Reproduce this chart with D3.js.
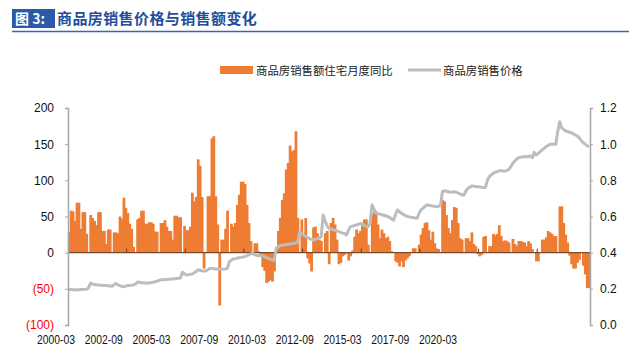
<!DOCTYPE html>
<html>
<head>
<meta charset="utf-8">
<script src="https://cdn.jsdelivr.net/npm/d3@7"></script>
<style>
  body { margin: 0; background: #fff; }
  svg { display: block; }
</style>
</head>
<body>
<div id="chart"></div>
<script>
const titleTag = '图 3:';
const titleText = '商品房销售价格与销售额变化';
const legendLabels = ['商品房销售额住宅月度同比', '商品房销售价格'];
const xLabels = ['2000-03', '2002-09', '2005-03', '2007-09', '2010-03', '2012-09', '2015-03', '2017-09', '2020-03'];
const leftTicks = [-100, -50, 0, 50, 100, 150, 200];
const rightTicks = [0, 0.2, 0.4, 0.6, 0.8, 1.0, 1.2];

// monthly, 2000-03 .. 2022-05 (January not reported)
const months = d3.timeMonth.range(new Date(2000, 2, 1), new Date(2022, 5, 1));

// residential sales amount, monthly YoY %
const salesYoY = [
  28, 58, 57, 44, 69, 69, 33, 56, 56, 26,                 // 2000 Mar-Dec
  null, 52, 48, 44, 38, 56, 56, 30, 30, 12, 32, 32,       // 2001
  null, 28, 28, 27, 50, 47, 76, 62, 55, 40, 33, 8,        // 2002
  null, 46, 48, 58, 58, 40, 40, 42, 42, 40, 29, 29,       // 2003
  null, 41, 41, 45, 36, 30, 30, 18, 51, 51, 49, 49,       // 2004
  null, 37, 31, 31, 36, 83, 71, 77, 129, 120, 77, -22,    // 2005
  null, 78, 78, 158, 161, 78, 39, -73, 18, 18, 33, 58,    // 2006
  null, 40, 36, 41, 66, 80, 98, 98, 95, 66, 41, 16,       // 2007
  null, 13, 13, 2, -3, -20, -25, -42, -40, -38, -40, -26, // 2008
  null, 30, 48, 73, 82, 115, 124, 148, 140, 142, 168, 48, // 2009
  null, 46, 27, 48, -8, -15, -26, 35, 36, 27, 18, 16,     // 2010
  null, 27, 30, -16, 41, 48, 39, 18, -16, -14, -5, -3,    // 2011
  null, -11, -5, 3, 22, 32, 27, 30, 39, 46, 46, 11,       // 2012
  null, 53, 56, 57, 39, 20, 32, 27, 20, 22, 16, 2,        // 2013
  null, -12, -14, -19, -12, -20, -11, -8, -5, 1, 6, 6,    // 2014
  null, 11, 25, 34, 41, 42, 31, 18, 29, 13, 6, 5,         // 2015
  null, 73, 71, 52, 34, 27, 45, 63, 62, 41, 20, 18,       // 2016
  null, 20, 20, 16, 28, 12, 9, -2, -5, -3, 22, 23,        // 2017
  null, 9, 9, 26, 24, 26, 38, 23, 16, 17, 16, 14,         // 2018
  null, 19, 12, 9, 16, 16, 15, 14, 9, 16, 13, 5,          // 2019
  null, -12, -12, 0, 18, 18, 21, 30, 28, 26, 23, 23,      // 2020
  null, 64, 64, 41, 25, 14, -4, -16, -22, -22, -14, -10,  // 2021
  null, -18, -30, -49, -49                                // 2022 Jan-May
];

// average sales price, 10k yuan / m2
const price = [
  0.197, 0.196, 0.195, 0.195, 0.194, 0.195, 0.196, 0.196, 0.197, 0.198,
  0.205, 0.232, 0.226, 0.224, 0.222, 0.221, 0.220, 0.220, 0.219, 0.218, 0.217, 0.216,
  0.214, 0.222, 0.229, 0.222, 0.218, 0.214, 0.212, 0.215, 0.218, 0.219, 0.220, 0.222,
  0.226, 0.238, 0.236, 0.234, 0.233, 0.232, 0.231, 0.233, 0.234, 0.236, 0.239, 0.242,
  0.246, 0.250, 0.250, 0.251, 0.252, 0.253, 0.254, 0.255, 0.256, 0.257, 0.258, 0.260,
  0.292, 0.283, 0.277, 0.278, 0.280, 0.282, 0.288, 0.296, 0.305, 0.303, 0.300, 0.299,
  0.298, 0.306, 0.313, 0.312, 0.311, 0.310, 0.309, 0.309, 0.308, 0.309, 0.310, 0.312,
  0.350, 0.358, 0.365, 0.367, 0.370, 0.372, 0.374, 0.376, 0.378, 0.383, 0.388, 0.393,
  0.398, 0.388, 0.385, 0.385, 0.384, 0.384, 0.378, 0.372, 0.368, 0.364, 0.360, 0.358,
  0.424, 0.432, 0.439, 0.441, 0.443, 0.445, 0.447, 0.448, 0.449, 0.451, 0.454, 0.457,
  0.516, 0.505, 0.498, 0.490, 0.484, 0.478, 0.474, 0.470, 0.474, 0.478, 0.482, 0.488,
  0.608, 0.575, 0.550, 0.535, 0.531, 0.527, 0.524, 0.520, 0.516, 0.512, 0.508, 0.505,
  0.498, 0.525, 0.544, 0.547, 0.550, 0.553, 0.556, 0.562, 0.558, 0.552, 0.544, 0.545,
  0.560, 0.664, 0.640, 0.618, 0.616, 0.613, 0.610, 0.607, 0.604, 0.600, 0.594, 0.587,
  0.580, 0.610, 0.636, 0.627, 0.618, 0.612, 0.606, 0.600, 0.598, 0.596, 0.595, 0.592,
  0.590, 0.615, 0.636, 0.645, 0.655, 0.664, 0.662, 0.660, 0.658, 0.656, 0.654, 0.657,
  0.660, 0.737, 0.742, 0.740, 0.737, 0.734, 0.735, 0.737, 0.735, 0.730, 0.725, 0.720,
  0.718, 0.740, 0.756, 0.762, 0.769, 0.768, 0.766, 0.765, 0.764, 0.762, 0.761, 0.760,
  0.800, 0.820, 0.830, 0.839, 0.844, 0.848, 0.853, 0.853, 0.852, 0.852, 0.855, 0.860,
  0.875, 0.894, 0.906, 0.918, 0.925, 0.928, 0.931, 0.931, 0.932, 0.931, 0.935, 0.925,
  0.955, 0.940, 0.948, 0.958, 0.968, 0.977, 0.986, 0.992, 0.999, 1.000, 1.000, 1.000,
  1.070, 1.124, 1.090, 1.082, 1.073, 1.070, 1.066, 1.062, 1.057, 1.051, 1.045, 1.035,
  1.020, 1.008, 1.000, 0.992, 0.986
];

const width = 641;
const height = 362;
const orange = '#EE7C33';
const grey = '#BDBDBD';
const axisGrey = '#A6A6A6';
const font = '"Liberation Sans", Arial, sans-serif';
const cjk = '"Noto Sans CJK SC", "Noto Sans", sans-serif';

const svg = d3.select('#chart')
  .append('svg')
  .attr('width', width)
  .attr('height', height);

// Title bar
svg.append('rect')
  .attr('x', 12).attr('y', 9)
  .attr('width', 43).attr('height', 19)
  .style('fill', '#2B5BA8');
svg.append('text')
  .attr('x', 15).attr('y', 24)
  .text(titleTag)
  .style('fill', '#fff')
  .style('font-family', cjk)
  .style('font-weight', 'bold')
  .style('font-size', '14px');
svg.append('text')
  .attr('x', 57).attr('y', 24)
  .text(titleText)
  .style('fill', '#1F4E9A')
  .style('font-family', cjk)
  .style('font-weight', 'bold')
  .style('font-size', '15px')
  .style('letter-spacing', '0.4px');
svg.append('line')
  .attr('x1', 12).attr('x2', 629)
  .attr('y1', 31.5).attr('y2', 31.5)
  .style('stroke', '#3A66AE')
  .style('stroke-width', 1.5);

// Scales
const x = d3.scaleBand()
  .domain(d3.range(months.length))
  .range([68, 590])
  .padding(0);
const bw = x.bandwidth();
const yL = d3.scaleLinear().domain([-100, 200]).range([325, 108]);
const yR = d3.scaleLinear().domain([0, 1.2]).range([325, 108]);
const labelX = d3.scalePoint().domain(xLabels).range([56, 438]);

// Bars (slight overlap so neighbouring months merge like the original)
const bars = salesYoY.map((v, i) => ({ i, v })).filter((d) => d.v !== null);
svg.append('g')
  .selectAll('rect')
  .data(bars)
  .enter()
  .append('rect')
  .attr('x', (d) => x(d.i) - 0.2)
  .attr('width', bw + 0.8)
  .attr('y', (d) => Math.min(yL(d.v), yL(0)))
  .attr('height', (d) => Math.abs(yL(d.v) - yL(0)))
  .style('fill', orange);

// Category axis along zero
svg.append('line')
  .attr('x1', 68).attr('x2', 590)
  .attr('y1', yL(0)).attr('y2', yL(0))
  .style('stroke', '#7A4A2C')
  .style('stroke-width', 1.3);
svg.append('g')
  .selectAll('line')
  .data(d3.range(30, months.length, 30))
  .enter()
  .append('line')
  .attr('x1', (i) => x(i)).attr('x2', (i) => x(i))
  .attr('y1', yL(0) - 4).attr('y2', yL(0))
  .style('stroke', '#5a3a2a')
  .style('stroke-width', 1);

// Price line
const line = d3.line()
  .x((d, i) => x(i) + bw / 2)
  .y((d) => yR(d));
svg.append('path')
  .datum(price)
  .attr('d', line)
  .style('fill', 'none')
  .style('stroke', grey)
  .style('stroke-width', 3)
  .style('stroke-linejoin', 'round');

// Left axis
const left = svg.append('g')
  .attr('transform', 'translate(68,0)')
  .call(d3.axisLeft(yL).tickValues(leftTicks).tickSize(3).tickPadding(11)
    .tickFormat((d) => (d < 0 ? `(${-d})` : d)));
left.select('.domain').style('stroke', axisGrey).style('stroke-width', 1.5);
left.selectAll('.tick line').style('stroke', axisGrey);
left.selectAll('.tick text')
  .style('font-family', font)
  .style('font-size', '12px')
  .style('fill', (d) => (d < 0 ? '#FF0000' : '#111'));

// Right axis
const right = svg.append('g')
  .attr('transform', 'translate(590,0)')
  .call(d3.axisRight(yR).tickValues(rightTicks).tickSize(3).tickPadding(7)
    .tickFormat(d3.format('.1f')));
right.select('.domain').style('stroke', axisGrey).style('stroke-width', 1.5);
right.selectAll('.tick line').style('stroke', axisGrey);
right.selectAll('.tick text')
  .style('font-family', font)
  .style('font-size', '12px')
  .style('fill', '#111');

// X labels
svg.append('g')
  .selectAll('text')
  .data(xLabels)
  .enter()
  .append('text')
  .attr('x', (d) => labelX(d) - 19)
  .attr('y', 344)
  .attr('textLength', 38)
  .attr('lengthAdjust', 'spacingAndGlyphs')
  .text((d) => d)
  .style('font-family', font)
  .style('font-size', '12.5px')
  .style('fill', '#111');

// Legend
const legend = svg.append('g');
legend.append('rect')
  .attr('x', 220).attr('y', 66)
  .attr('width', 33).attr('height', 8)
  .style('fill', orange);
legend.append('text')
  .attr('x', 256).attr('y', 74.5)
  .text(legendLabels[0])
  .style('font-family', cjk)
  .style('font-size', '11.4px')
  .style('fill', '#222');
legend.append('line')
  .attr('x1', 408).attr('x2', 441)
  .attr('y1', 70).attr('y2', 70)
  .style('stroke', grey)
  .style('stroke-width', 3);
legend.append('text')
  .attr('x', 443).attr('y', 74.5)
  .text(legendLabels[1])
  .style('font-family', cjk)
  .style('font-size', '11.4px')
  .style('fill', '#222');
</script>
</body>
</html>
